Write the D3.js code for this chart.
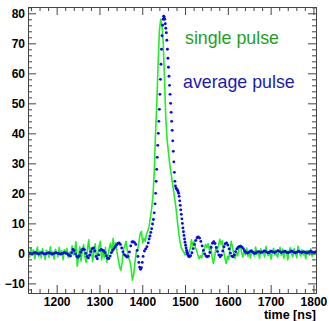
<!DOCTYPE html>
<html><head><meta charset="utf-8">
<script src="https://cdn.jsdelivr.net/npm/d3@7"></script>
<style>body{margin:0;background:#fff}svg{display:block}</style>
</head><body><svg id="c" width="329" height="321"></svg>
<script>
// ---------------- data ----------------
const xTickValues = [1200, 1300, 1400, 1500, 1600, 1700, 1800];
const yTickValues = [-10, 0, 10, 20, 30, 40, 50, 60, 70, 80];
const legendLabels = ["single pulse", "average pulse"];
const axisTitle = "time [ns]";

// single pulse: samples every 3 ns starting at 1134 ns
const singleStart = 1134, singleStep = 3;
const singlePulse = [
  0.5,-1.2,1.8,-0.6,1.2,-1.8,0.3,2.1,-1.0,0.8,-1.5,1.6,-0.4,-2.0,1.1,0.2,-1.3,2.2,-0.8,0.6,-1.9,1.4,0.1,-1.1,2.0,-0.5,0.9,-2.1,1.3,-0.3,1.7,-1.4,0.4,
  -1.0,2.5,-0.5,1.0,3.9,-4.3,-1.5,2.2,-2.6,0.8,2.9,-1.2,-3.0,1.5,4.5,-0.8,1.9,-2.8,0.6,3.2,-1.6,-0.4,2.4,4.0,-2.2,0.9,-1.5,2.0,-2.9,-0.7,1.8,3.4,0.2,
  5.0,1.5,3.5,0.5,-2.0,-4.5,-5.6,-3.0,1.0,2.5,4.0,1.0,-1.5,-2.5,-5.0,-8.9,-7.0,-3.0,0.5,1.0,3.5,6.5,7.3,3.5,5.0,4.0,6.5,7.5,9.0,12.0,15.0,19.0,27.0,40.0,
  50.0,63.0,74.0,78.0,76.0,70.0,58.0,45.0,38.0,34.0,30.0,27.0,24.0,21.0,18.0,15.0,11.0,7.0,4.0,2.0,1.0,
  0.5,-0.5,0.8,-0.8,0.3,1.5,4.5,2.5,4.0,2.0,1.0,-0.5,-1.8,-0.8,-1.5,0.5,1.5,3.0,2.0,3.2,1.0,2.5,-1.0,-3.3,-1.5,2.0,1.0,2.5,4.7,3.0,4.2,1.0,-1.5,-3.3,-1.0,-2.0,
  1.5,4.0,2.0,-0.5,-1.7,0.5,-0.8,1.5,2.6,0.5,-1.2,1.0,-0.5,1.8,-1.0,0.6,
  -1.5,1.2,0.3,-0.9,2.1,-0.4,0.8,-1.7,1.5,-0.2,0.6,-1.2,2.3,0.1,-0.8,1.1,-1.9,0.4,1.7,-0.6,0.9,-1.3,0.2,2.0,-0.7,1.4,-1.6,0.5,1.0,-2.2,
  0.7,1.9,-0.3,-1.1,1.6,0.0,-1.4,2.4,0.6,-0.9,1.2,-0.5,0.3,-1.8,1.0,0.8,-0.6,1.5,-1.0,0.4,-0.3,1.1
];

// average pulse: [time ns, amplitude]
const averagePulse = [
  [1134,0.2],[1138,0.0],[1142,-0.2],[1146,0.1],[1150,0.3],[1154,0.0],[1158,-0.2],[1162,0.1],[1166,0.2],[1170,-0.1],
  [1174,-0.2],[1178,0.1],[1182,0.2],[1186,0.0],[1190,-0.2],[1194,0.0],[1198,0.2],[1202,0.1],[1206,-0.1],[1210,-0.2],
  [1214,0.0],[1218,0.3],[1222,0.1],[1226,-0.3],
  [1229,-0.6],[1232,-0.9],[1235,0.2],[1238,1.3],[1241,0.9],[1244,-0.2],[1247,-1.0],[1250,-1.3],[1253,-0.8],[1256,0.4],
  [1259,1.2],[1262,1.5],[1265,1.2],[1268,0.0],[1271,-1.0],[1274,-1.5],[1277,-0.6],[1280,0.6],[1283,1.5],[1286,1.8],
  [1289,0.8],[1292,-1.0],[1295,-1.8],[1298,-0.5],[1301,1.0],[1304,1.3],[1307,1.1],[1310,0.8],[1313,0.2],[1316,-0.8],
  [1319,-1.6],[1322,-1.7],[1325,-0.9],[1328,0.2],[1331,1.0],[1334,1.6],[1337,2.2],[1340,2.8],[1343,3.3],[1346,3.5],
  [1349,3.0],[1352,1.8],[1355,0.5],[1358,-0.4],[1361,-0.8],[1364,-1.2],[1367,-1.0],[1370,0.5],[1373,2.5],[1376,3.8],
  [1379,3.9],[1382,3.6],[1385,3.0],[1388,1.0],[1390,-1.0],[1392,-3.0],[1394,-4.6],[1396,-5.3],[1398,-4.8],[1400,-3.0],
  [1402,-1.0],[1405,0.8],[1408,1.5],[1411,2.2],[1414,3.5],[1416,4.8],[1418,5.8],[1420,7.0],[1422,8.2],[1424,9.8],
  [1426,11.3],[1428,13.5],[1430,16.5],
  [1431.25,20],[1432.5,24],[1433.75,28],[1435,32],[1436.25,36],[1437.5,40],[1438.75,44],[1440,48],[1441.25,53],
  [1442.5,58],[1443.75,63],[1445,68],[1446.25,72.5],[1447.5,76],[1448.75,78],[1450,79],[1451.25,78.8],[1452.5,78],
  [1453.75,76.5],[1455,75],[1456.25,73.5],[1457.5,71],[1458.75,68],[1460,65],[1461.25,62],[1462.5,59],[1463.75,56],
  [1465,53],[1466.25,50],[1467.5,47],[1468.75,44],[1470,41],[1471.25,37.5],[1472.5,34],[1473.75,30.5],[1475,27],
  [1476.25,24],[1477.5,22.5],[1478.75,21.8],[1480,21.5],[1481.25,21.2],[1482.5,21],[1483.75,20.5],[1485,20],
  [1486.25,19],[1487.5,17.5],[1488.75,16],[1490,14.5],[1491.25,13],[1492.5,11.5],[1493.75,10],[1495,8.5],
  [1496.25,7.2],[1497.5,6],[1498.75,4.8],[1500,3.7],[1501.25,2.7],[1502.5,1.8],[1503.75,1.0],[1505,0.3],
  [1506.25,-0.3],[1507.5,-0.7],[1508.75,-1.0],[1510,-1.1],
  [1513,-0.8],[1516,0.2],[1519,1.6],[1522,3.0],[1525,4.3],[1528,5.2],[1531,5.5],[1534,5.1],[1537,4.0],[1540,2.5],
  [1543,1.0],[1546,-0.2],[1549,-0.9],[1552,-1.1],[1555,-0.9],[1558,0.3],[1561,2.0],[1564,3.4],[1567,3.9],[1570,3.3],
  [1573,2.0],[1576,0.6],[1579,-0.5],[1582,-1.1],[1585,-0.6],[1588,0.8],[1591,2.2],[1594,3.2],[1597,3.5],[1600,2.8],
  [1603,1.5],[1606,0.1],[1609,-0.9],[1612,-1.1],[1615,-0.5],[1618,0.6],[1621,1.5],[1624,2.0],[1627,2.3],[1630,2.4],
  [1633,2.1],[1636,1.6],[1639,0.9],[1642,0.4],[1645,0.1],[1648,0.3],[1651,0.6],[1654,0.8],[1657,0.6],[1660,0.2],
  [1663,0.0],[1666,0.2],[1669,0.5],
  [1673,0.6],[1677,0.3],[1681,0.5],[1685,0.8],[1689,0.6],[1693,0.2],[1697,0.4],[1701,0.7],[1705,0.5],[1709,0.3],
  [1713,0.6],[1717,0.9],[1721,0.6],[1725,0.3],[1729,0.5],[1733,0.7],[1737,0.4],[1741,0.2],[1745,0.5],[1749,0.8],
  [1753,0.5],[1757,0.2],[1761,0.4],[1765,0.7],[1769,0.5],[1773,0.3],[1777,0.6],[1781,0.4],[1785,0.1],[1789,0.4],
  [1793,0.7],[1797,0.5],[1801,0.3],[1805,0.5]
];

// ---------------- layout ----------------
const L = 28, R = 316, T = 7, B = 293;
const svg = d3.select("#c");
const x = d3.scaleLinear().domain([1133, 1806]).range([L, R]);
const y = d3.scaleLinear().domain([-13.2, 82.1]).range([B, T]);

const xMinor = d3.range(1140, 1806, 20).filter(v => v % 100 !== 0);
const yMinor = d3.range(-12, 82.1, 2).filter(v => v % 10 !== 0);

svg.append("defs").append("clipPath").attr("id", "clip")
  .append("rect").attr("x", L).attr("y", T).attr("width", R - L).attr("height", B - T);

const plot = svg.append("g").attr("clip-path", "url(#clip)");

// single pulse line
const singleData = singlePulse.map((v, i) => [singleStart + i * singleStep, v]);
plot.append("path").datum(singleData)
  .attr("fill", "none").attr("stroke", "#22ee22").attr("stroke-width", 1.6)
  .attr("stroke-linejoin", "round")
  .attr("d", d3.line().x(d => x(d[0])).y(d => y(d[1])));

// average pulse dots
plot.append("g").selectAll("circle").data(averagePulse).join("circle")
  .attr("cx", d => x(d[0])).attr("cy", d => y(d[1])).attr("r", 1.45)
  .attr("fill", "#0a0aee");

// ---------------- axes ----------------
const axStroke = "#444";
function styleAxis(g, labels) {
  g.select(".domain").attr("stroke", axStroke);
  g.selectAll(".tick line").attr("stroke", axStroke);
  if (!labels) g.selectAll(".tick text").remove();
  else g.selectAll(".tick text")
    .attr("font-family", "Liberation Sans, Arial, sans-serif")
    .attr("font-weight", "bold").attr("font-size", 12).attr("fill", "#000");
}
// bottom
svg.append("g").attr("transform", `translate(0,${B})`)
  .call(d3.axisBottom(x).tickValues(xMinor).tickSize(-4).tickSizeOuter(0).tickFormat(""))
  .call(g => styleAxis(g, false));
svg.append("g").attr("transform", `translate(0,${B})`)
  .call(d3.axisBottom(x).tickValues(xTickValues).tickSize(-8).tickSizeOuter(0).tickPadding(4).tickFormat(d3.format("d")))
  .call(g => styleAxis(g, true));
// top
svg.append("g").attr("transform", `translate(0,${T})`)
  .call(d3.axisTop(x).tickValues(xMinor).tickSize(-4).tickSizeOuter(0).tickFormat(""))
  .call(g => styleAxis(g, false));
svg.append("g").attr("transform", `translate(0,${T})`)
  .call(d3.axisTop(x).tickValues(xTickValues).tickSize(-8).tickSizeOuter(0).tickFormat(""))
  .call(g => styleAxis(g, false));
// left
svg.append("g").attr("transform", `translate(${L},0)`)
  .call(d3.axisLeft(y).tickValues(yMinor).tickSize(-4).tickSizeOuter(0).tickFormat(""))
  .call(g => styleAxis(g, false));
svg.append("g").attr("transform", `translate(${L},0)`)
  .call(d3.axisLeft(y).tickValues(yTickValues).tickSize(-8).tickSizeOuter(0).tickPadding(3).tickFormat(d3.format("d")))
  .call(g => styleAxis(g, true));
// right
svg.append("g").attr("transform", `translate(${R},0)`)
  .call(d3.axisRight(y).tickValues(yMinor).tickSize(-4).tickSizeOuter(0).tickFormat(""))
  .call(g => styleAxis(g, false));
svg.append("g").attr("transform", `translate(${R},0)`)
  .call(d3.axisRight(y).tickValues(yTickValues).tickSize(-8).tickSizeOuter(0).tickFormat(""))
  .call(g => styleAxis(g, false));

// axis title
svg.append("text").attr("x", R).attr("y", 318.5).attr("text-anchor", "end")
  .attr("font-family", "Liberation Sans, Arial, sans-serif").attr("font-weight", "bold")
  .attr("font-size", 12.5).attr("fill", "#000").text(axisTitle);

// legend texts
const legendColors = ["#1ea01e", "#1a1ab4"];
const legendPos = [[185, 44], [183, 88]];
svg.append("g").selectAll("text").data(legendLabels).join("text")
  .attr("x", (d, i) => legendPos[i][0]).attr("y", (d, i) => legendPos[i][1])
  .attr("font-family", "Liberation Sans, Arial, sans-serif").attr("font-size", 17.8)
  .attr("fill", (d, i) => legendColors[i]).text(d => d);
</script>
</body></html>
